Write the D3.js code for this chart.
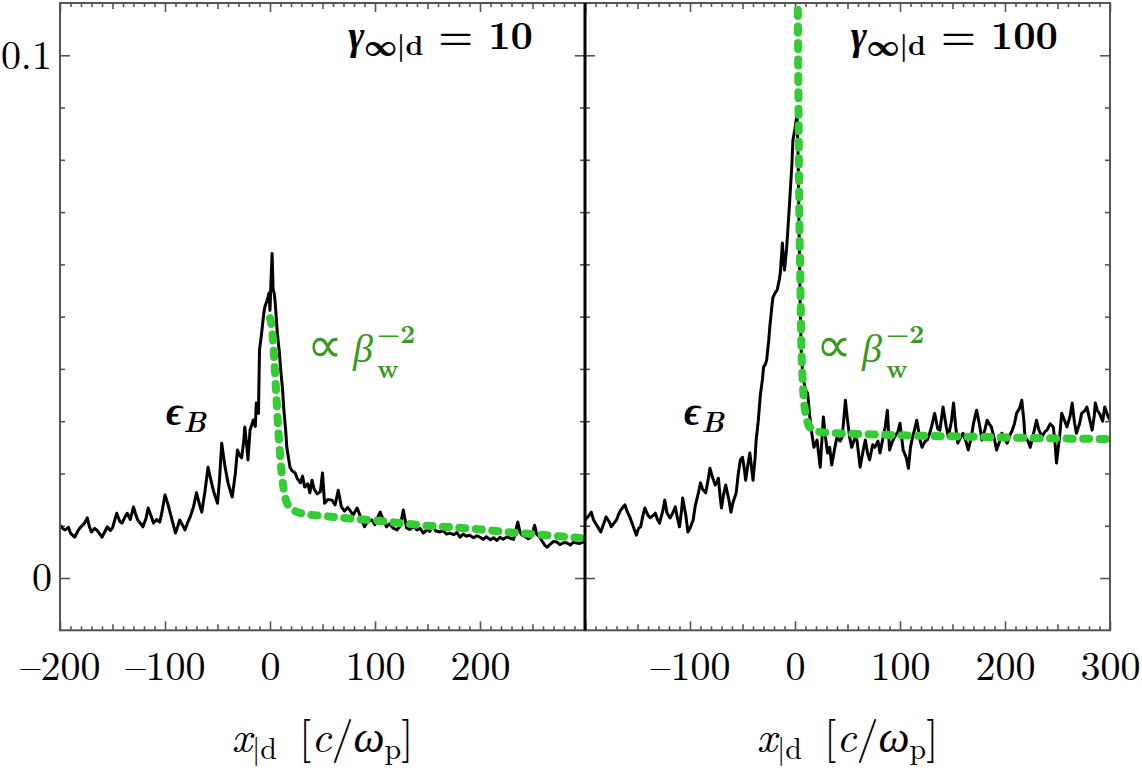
<!DOCTYPE html>
<html>
<head>
<meta charset="utf-8">
<script src="https://cdn.jsdelivr.net/npm/d3@7"></script>
<style>
body { margin: 0; background: #fff; }
svg { display: block; }
</style>
</head>
<body>
<div id="plot"></div>
<script>
// ---- data ----
// left panel, gamma = 10 : black eps_B profile
var xLeft = [-200,-197,-195,-192,-190,-186,-183,-181,-177,-174,-172,-170,-167,-165,-162,-160,-157,-155,-152,-150,
  -148,-146,-143,-141,-138,-136,-133,-130,-128,-126,-123,-121,-118,-116,-113,-111,-108,-105,-103,-100,
  -97,-95,-92,-90,-88,-86,-83,-81,-78,-76,-73,-70,-67,-65,-62,-59,-56,-54,-52,-50,
  -48,-46,-43,-40,-38,-36,-33,-31,-29,-27,-25,-24,-22,-21,-19,-17,-16,-14,-13,-11,
  -10,-8,-6,-5,-3,-2,-1,0,1,2,3,4,5,7,9,10,12,13,15,16,
  18,19,21,24,26,29,31,33,36,38,40,42,45,48,50,52,55,59,62,65,
  68,71,74,76,79,83,86,90,93,97,100,103,105,108,111,114,117,121,124,127,
  130,133,137,140,143,146,150,152,155,158,162,165,168,171,175,178,181,184,187,190,
  194,197,200,203,206,210,213,216,219,222,226,229,232,234,236,238,240,243,246,248,
  250,252,254,257,260,262,264,267,270,273,276,280,283,286,289,292,295,298,300];
var epsLeft = [.0101,.0094,.0092,.0097,.0086,.0078,.0090,.0096,.0104,.0115,.0098,.0088,.0095,.0092,.0084,.0078,.0090,.0098,.0091,.0096,
  .0110,.0124,.0108,.0105,.0117,.0124,.0112,.0136,.0122,.0111,.0104,.0098,.0115,.0134,.0117,.0105,.0112,.0107,.0125,.0159,
  .0140,.0124,.0101,.0086,.0098,.0111,.0100,.0092,.0108,.0117,.0135,.0163,.0140,.0126,.0165,.0212,.0185,.0168,.0155,.0143,
  .0190,.0258,.0215,.0182,.0168,.0155,.0200,.0245,.0235,.0230,.0262,.0289,.0250,.0226,.0283,.0295,.0302,.0290,.0335,.0315,
  .0436,.0468,.0505,.0518,.0530,.0537,.0545,.0512,.0570,.0621,.0551,.0545,.0526,.0468,.0430,.0403,.0360,.0327,.0280,.0250,
  .0225,.0212,.0205,.0201,.0190,.0182,.0195,.0174,.0180,.0163,.0187,.0170,.0161,.0165,.0201,.0143,.0150,.0149,.0140,.0168,
  .0136,.0128,.0135,.0130,.0120,.0134,.0118,.0098,.0108,.0111,.0102,.0118,.0126,.0110,.0098,.0104,.0096,.0092,.0100,.0130,
  .0096,.0093,.0098,.0092,.0095,.0086,.0093,.0089,.0098,.0090,.0088,.0091,.0084,.0086,.0083,.0087,.0078,.0084,.0080,.0082,
  .0077,.0081,.0078,.0074,.0079,.0073,.0077,.0072,.0078,.0074,.0079,.0076,.0074,.0090,.0107,.0088,.0082,.0079,.0075,.0078,
  .0086,.0101,.0084,.0078,.0068,.0062,.0059,.0065,.0070,.0069,.0064,.0068,.0067,.0063,.0069,.0067,.0066,.0069,.0068];

// left panel : green beta_w^-2 curve
var xFitLeft = [0,2,4,6,8,10,12,15,19,25,35,50,75,100,125,150,175,200,225,250,275,300];
var fitLeft = [.0497,.0475,.0420,.0350,.0280,.0225,.0185,.0150,.0135,.0127,.0122,.0119,.0114,.0110,.0105,.0100,.0097,.0093,.0088,.0084,.0080,.0076];

// right panel, gamma = 100 : black eps_B profile
var xRight = [-200,-196,-194,-192,-190,-187,-185,-182,-180,-177,-175,-172,-170,-168,-166,-164,-162,-160,-157,-154,
  -151,-149,-147,-145,-143,-140,-138,-135,-133,-131,-129,-126,-124,-122,-119,-117,-114,-112,-110,-108,
  -107,-104,-102,-100,-97,-95,-92,-90,-88,-85,-83,-81,-79,-76,-74,-73,-71,-70,-68,-66,
  -63,-61,-59,-56,-54,-52,-50,-48,-47,-45,-43,-41,-40,-38,-37,-35,-33,-31,-30,-28,
  -27,-25,-24,-22,-21,-19,-17,-15,-14,-12,-11,-10,-8,-7,-5,-3,-2,0,2,3,
  4,5,6,7,8,10,12,14,16,18,21,24,27,29,31,33,35,38,40,43,
  45,48,50,52,54,57,59,62,65,67,69,71,74,76,79,81,84,86,88,90,
  93,95,98,100,103,106,108,110,112,114,116,119,121,124,126,128,130,133,136,138,
  141,144,146,149,151,153,155,158,160,163,165,168,170,173,176,178,181,183,185,187,
  190,192,195,197,200,202,205,207,209,211,214,216,218,219,222,224,227,230,232,235,
  238,240,243,246,248,249,252,254,257,259,262,264,266,268,271,273,276,278,281,283,
  285,286,288,290,293,295,298,300];
var epsRight = [.0111,.0120,.0126,.0112,.0105,.0095,.0088,.0105,.0117,.0108,.0098,.0106,.0111,.0122,.0130,.0135,.0140,.0128,.0115,.0098,
  .0082,.0095,.0098,.0118,.0134,.0120,.0115,.0120,.0124,.0112,.0105,.0128,.0149,.0125,.0115,.0122,.0136,.0115,.0098,.0130,
  .0153,.0120,.0088,.0095,.0111,.0138,.0163,.0182,.0170,.0163,.0185,.0210,.0195,.0178,.0185,.0191,.0150,.0134,.0160,.0178,
  .0150,.0126,.0145,.0163,.0200,.0226,.0231,.0205,.0187,.0215,.0239,.0205,.0187,.0230,.0264,.0300,.0350,.0380,.0403,.0410,
  .0417,.0455,.0480,.0520,.0537,.0545,.0551,.0570,.0583,.0641,.0610,.0589,.0630,.0660,.0723,.0790,.0837,.0860,.0889,.0800,
  .0650,.0520,.0430,.0400,.0380,.0360,.0354,.0310,.0277,.0250,.0264,.0212,.0308,.0270,.0239,.0250,.0216,.0250,.0270,.0262,
  .0270,.0340,.0302,.0270,.0250,.0268,.0264,.0212,.0245,.0264,.0240,.0226,.0255,.0250,.0262,.0239,.0270,.0290,.0321,.0245,
  .0262,.0270,.0280,.0296,.0245,.0230,.0210,.0250,.0270,.0285,.0302,.0265,.0250,.0262,.0264,.0275,.0289,.0315,.0285,.0283,
  .0327,.0290,.0270,.0300,.0335,.0290,.0258,.0270,.0277,.0260,.0245,.0270,.0296,.0321,.0290,.0264,.0285,.0302,.0295,.0289,
  .0265,.0245,.0262,.0277,.0265,.0258,.0275,.0283,.0295,.0315,.0325,.0340,.0300,.0270,.0262,.0250,.0275,.0302,.0285,.0270,
  .0280,.0283,.0295,.0289,.0250,.0220,.0270,.0315,.0300,.0289,.0310,.0335,.0300,.0277,.0295,.0315,.0320,.0327,.0300,.0283,
  .0310,.0335,.0320,.0315,.0300,.0327,.0310,.0302];

// right panel : green beta_w^-2 curve
var xFitRight = [2.5,3,3.5,4,5,6,7,8.5,10.5,13,17,25,40,70,100,150,200,250,300];
var fitRight = [.115,.100,.087,.072,.058,.045,.039,.034,.031,.0292,.0284,.0279,.0277,.0275,.0273,.0271,.0269,.0267,.0266];

var xMajor = [-200, -100, 0, 100, 200, 300];
var xLabelsLeft = [-200, -100, 0, 100, 200];
var xLabelsRight = [-100, 0, 100, 200, 300];
var yMajor = [0, 0.1];
var titles = ["10", "100"];

// ---- drawing ----
var width = 1142;
var height = 773;
var FONT = "'Latin Modern Roman', 'Liberation Serif', serif";
var frameColor = "#555";
var green = "#33cc33";
var greenText = "#3a9a20";

var svg = d3.select("#plot").append("svg").attr("width", width).attr("height", height);

var yScale = d3.scaleLinear().domain([-0.01, 0.11]).range([630.3, 3]);

var panels = [
  {x0: 60, x1: 585, xs: xLeft, ys: epsLeft, fx: xFitLeft, fy: fitLeft, labels: xLabelsLeft, title: titles[0]},
  {x0: 585, x1: 1110, xs: xRight, ys: epsRight, fx: xFitRight, fy: fitRight, labels: xLabelsRight, title: titles[1]}
];

var xMinor = d3.range(-200, 301, 10).filter(function(d) { return d % 50 != 0; });
var xMid = d3.range(-150, 300, 100);
var yMinor = d3.range(1, 10).map(function(d) { return d / 100; });

function fmt(d) {
  return d < 0 ? "\u2013" + Math.abs(d) : String(d);
}

function styleAxis(g) {
  g.select(".domain").remove();
  g.selectAll("line").attr("stroke", frameColor).attr("stroke-width", 1.6);
  g.selectAll("text").attr("font-size", 40).attr("fill", "#000").style("font-family", FONT);
}

function label(x, y, size) {
  return svg.append("text").attr("x", x).attr("y", y).attr("font-size", size).style("font-family", FONT);
}

panels.forEach(function(p, i) {
  var x = d3.scaleLinear().domain([-200, 300]).range([p.x0, p.x1]);
  var top = yScale(0.11), bottom = yScale(-0.01);

  // ticks: bottom and top
  [[xMinor, -4], [xMid, -6]].forEach(function(t) {
    svg.append("g").attr("transform", "translate(0," + bottom + ")")
      .call(d3.axisBottom(x).tickValues(t[0]).tickSize(t[1]).tickFormat("")).call(styleAxis);
    svg.append("g").attr("transform", "translate(0," + top + ")")
      .call(d3.axisTop(x).tickValues(t[0]).tickSize(t[1]).tickFormat("")).call(styleAxis);
  });
  svg.append("g").attr("transform", "translate(0," + bottom + ")")
    .call(d3.axisBottom(x).tickValues(xMajor).tickSize(-9).tickPadding(21)
      .tickFormat(function(d) { return p.labels.indexOf(d) >= 0 ? fmt(d) : ""; }))
    .call(styleAxis);
  svg.append("g").attr("transform", "translate(0," + top + ")")
    .call(d3.axisTop(x).tickValues(xMajor).tickSize(-9).tickFormat("")).call(styleAxis);

  // ticks: left / right sides of the panel
  svg.append("g").attr("transform", "translate(" + p.x0 + ",0)")
    .call(d3.axisLeft(yScale).tickValues(yMinor).tickSize(-5).tickFormat("")).call(styleAxis);
  svg.append("g").attr("transform", "translate(" + p.x1 + ",0)")
    .call(d3.axisRight(yScale).tickValues(yMinor).tickSize(-5).tickFormat("")).call(styleAxis);
  svg.append("g").attr("transform", "translate(" + p.x0 + ",0)")
    .call(d3.axisLeft(yScale).tickValues(yMajor).tickSize(-10).tickPadding(8)
      .tickFormat(function(d) { return i == 0 ? (d == 0 ? "0" : "0.1") : ""; }))
    .call(styleAxis);
  svg.append("g").attr("transform", "translate(" + p.x1 + ",0)")
    .call(d3.axisRight(yScale).tickValues(yMajor).tickSize(-10).tickFormat("")).call(styleAxis);

  // clip
  svg.append("clipPath").attr("id", "clip" + i).append("rect")
    .attr("x", p.x0).attr("y", top).attr("width", p.x1 - p.x0).attr("height", bottom - top);

  var line = d3.line()
    .x(function(d) { return x(d[0]); })
    .y(function(d) { return yScale(d[1]); });

  svg.append("path")
    .datum(d3.zip(p.xs, p.ys))
    .attr("clip-path", "url(#clip" + i + ")")
    .attr("d", line)
    .attr("fill", "none")
    .attr("stroke", "#000")
    .attr("stroke-width", 3)
    .attr("stroke-linejoin", "round");

  svg.append("path")
    .datum(d3.zip(p.fx, p.fy))
    .attr("clip-path", "url(#clip" + i + ")")
    .attr("d", line.curve(d3.curveMonotoneX))
    .attr("fill", "none")
    .attr("stroke", green)
    .attr("stroke-width", 8)
    .attr("stroke-linecap", "round")
    .attr("stroke-dasharray", "6 10.5");

  // frame
  svg.append("rect")
    .attr("x", p.x0).attr("y", top).attr("width", p.x1 - p.x0).attr("height", bottom - top)
    .attr("fill", "none").attr("stroke", frameColor).attr("stroke-width", 2);

  // title
  var t = label(p.x1 - 52, 49, 39).attr("text-anchor", "end").attr("font-weight", "bold");
  t.append("tspan").attr("font-style", "italic").text("\u03b3");
  t.append("tspan").attr("font-size", 28).attr("dy", 6).text("\u221e|d");
  t.append("tspan").attr("dy", -6).text(" = " + p.title);

  // x axis label
  var xl = label((p.x0 + p.x1) / 2, 752, 44).attr("text-anchor", "middle");
  xl.append("tspan").attr("font-style", "italic").text("x");
  xl.append("tspan").attr("font-size", 30).attr("dy", 7).text("|d");
  xl.append("tspan").attr("dy", -7).text("\u2002[");
  xl.append("tspan").attr("font-style", "italic").text("c");
  xl.append("tspan").text("/");
  xl.append("tspan").attr("font-style", "italic").text("\u03c9");
  xl.append("tspan").attr("font-size", 30).attr("dy", 7).text("p");
  xl.append("tspan").attr("dy", -7).text("]");

  // eps_B label
  var eb = label(p.x0 + (i == 0 ? 106 : 99), 425, 40).attr("font-weight", "bold").attr("font-style", "italic");
  eb.append("tspan").text("\u03f5");
  eb.append("tspan").attr("font-size", 28).attr("dy", 7).text("B");

  // beta_w^-2 label
  var bx = p.x0 + (i == 0 ? 247 : 231);
  label(bx, 362, 50).attr("fill", greenText).text("\u221d");
  label(bx + 46, 362, 40).attr("fill", greenText).attr("font-style", "italic").text("\u03b2");
  label(bx + 70, 378, 26).attr("font-weight", "bold").attr("fill", greenText).text("w");
  label(bx + 70, 343, 26).attr("font-weight", "bold").attr("fill", greenText).text("\u22122");
});

// shared boundary between the panels
svg.append("line")
  .attr("x1", 585).attr("x2", 585)
  .attr("y1", yScale(0.11)).attr("y2", yScale(-0.01))
  .attr("stroke", "#000").attr("stroke-width", 3);
</script>
</body>
</html>
